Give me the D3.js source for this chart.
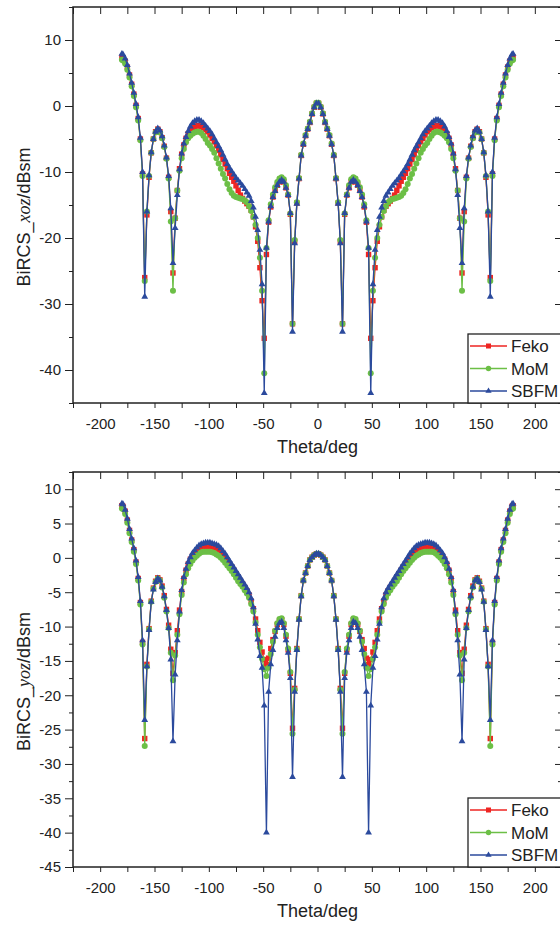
<!DOCTYPE html>
<html>
<head>
<meta charset="utf-8">
<script src="https://cdn.jsdelivr.net/npm/d3@7"></script>
<style>
body { margin: 0; background: #fff; }
svg text { font-family: Arial, "Liberation Sans", sans-serif; fill: #222; }
</style>
</head>
<body>
<script>
// scattering angle, deg
var theta = [
  -180, -179, -177, -175, -173, -171, -169, -167, -165, -163,
  -161, -159, -157, -155, -153, -151, -149, -147, -145, -143,
  -141, -139, -137, -135, -133, -131, -129, -127, -125, -123,
  -121, -119, -117, -115, -113, -111, -109, -107, -105, -103,
  -101, -99, -97, -95, -93, -91, -89, -87, -85, -83,
  -81, -79, -77, -75, -73, -71, -69, -67, -65, -63,
  -61, -59, -57, -55, -53, -51, -49, -47, -45, -43,
  -41, -39, -37, -35, -33, -31, -29, -27, -25, -23,
  -21, -19, -17, -15, -13, -11, -9, -7, -5, -3,
  -1,
  1,
  3, 5, 7, 9, 11, 13, 15, 17, 19, 21,
  23, 25, 27, 29, 31, 33, 35, 37, 39, 41,
  43, 45, 47, 49, 51, 53, 55, 57, 59, 61,
  63, 65, 67, 69, 71, 73, 75, 77, 79, 81,
  83, 85, 87, 89, 91, 93, 95, 97, 99, 101,
  103, 105, 107, 109, 111, 113, 115, 117, 119, 121,
  123, 125, 127, 129, 131, 133, 135, 137, 139, 141,
  143, 145, 147, 149, 151, 153, 155, 157, 159, 161,
  163, 165, 167, 169, 171, 173, 175, 177, 179, 180
];

// BiRCS xoz plane, dBsm
var xozFeko = [
  7.4, 7.3, 6.8, 5.9, 4.7, 3.3, 1.8, 0.1, -1.9, -5.0,
  -10.3, -26.0, -16.5, -10.8, -7.1, -5.0, -3.9, -3.5, -3.9, -4.8,
  -6.1, -7.9, -10.8, -16.0, -25.3, -17.0, -12.8, -9.5, -7.3, -5.9,
  -4.9, -4.2, -3.7, -3.4, -3.2, -3.0, -3.0, -3.1, -3.3, -3.6,
  -3.9, -4.4, -4.9, -5.4, -6.0, -6.7, -7.4, -8.1, -8.8, -9.5,
  -10.2, -10.8, -11.4, -12.1, -12.8, -13.5, -14.0, -14.4, -14.8, -15.2,
  -15.8, -16.8, -18.3, -20.5, -24.5, -29.5, -35.2, -22.5, -17.6, -15.3,
  -13.8, -12.8, -12.0, -11.5, -11.2, -11.5, -12.4, -13.5, -16.4, -33.0,
  -20.5, -14.7, -11.0, -7.5, -5.8, -4.5, -3.5, -2.5, -1.2, -0.2,
  0.4,
  0.4,
  -0.2, -1.2, -2.5, -3.5, -4.5, -5.8, -7.5, -11.0, -14.7, -20.5,
  -33.0, -16.4, -13.5, -12.4, -11.5, -11.2, -11.5, -12.0, -12.8, -13.8,
  -15.3, -17.6, -22.5, -35.2, -29.5, -24.5, -20.5, -18.3, -16.8, -15.8,
  -15.2, -14.8, -14.4, -14.0, -13.5, -12.8, -12.1, -11.4, -10.8, -10.2,
  -9.5, -8.8, -8.1, -7.4, -6.7, -6.0, -5.4, -4.9, -4.4, -3.9,
  -3.6, -3.3, -3.1, -3.0, -3.0, -3.2, -3.4, -3.7, -4.2, -4.9,
  -5.9, -7.3, -9.5, -12.8, -17.0, -25.3, -16.0, -10.8, -7.9, -6.1,
  -4.8, -3.9, -3.5, -3.9, -5.0, -7.1, -10.8, -16.5, -26.0, -10.3,
  -5.0, -1.9, 0.1, 1.8, 3.3, 4.7, 5.9, 6.8, 7.3, 7.4
];
var xozMoM = [
  7.0, 6.9, 6.4, 5.5, 4.3, 3.0, 1.5, -0.2, -2.2, -5.2,
  -10.6, -26.5, -16.0, -10.6, -7.1, -5.0, -4.0, -3.6, -4.0, -4.9,
  -6.2, -8.0, -11.0, -17.5, -28.0, -17.0, -12.8, -9.8, -7.9, -6.5,
  -5.5, -4.9, -4.5, -4.2, -4.0, -3.9, -3.9, -4.1, -4.5, -5.0,
  -5.6, -6.0, -6.5, -7.1, -7.9, -8.7, -9.5, -10.3, -11.0, -11.8,
  -12.6, -13.2, -13.6, -13.8, -13.9, -14.0, -14.1, -14.3, -14.6, -15.2,
  -15.9, -16.8, -18.0, -20.0, -23.0, -28.0, -40.5, -21.5, -17.3, -14.9,
  -13.4, -12.3, -11.5, -11.0, -10.8, -11.1, -12.0, -13.4, -16.3, -33.0,
  -20.3, -14.6, -10.9, -7.4, -5.7, -4.4, -3.4, -2.4, -1.1, -0.1,
  0.5,
  0.5,
  -0.1, -1.1, -2.4, -3.4, -4.4, -5.7, -7.4, -10.9, -14.6, -20.3,
  -33.0, -16.3, -13.4, -12.0, -11.1, -10.8, -11.0, -11.5, -12.3, -13.4,
  -14.9, -17.3, -21.5, -40.5, -28.0, -23.0, -20.0, -18.0, -16.8, -15.9,
  -15.2, -14.6, -14.3, -14.1, -14.0, -13.9, -13.8, -13.6, -13.2, -12.6,
  -11.8, -11.0, -10.3, -9.5, -8.7, -7.9, -7.1, -6.5, -6.0, -5.6,
  -5.0, -4.5, -4.1, -3.9, -3.9, -4.0, -4.2, -4.5, -4.9, -5.5,
  -6.5, -7.9, -9.8, -12.8, -17.0, -28.0, -17.5, -11.0, -8.0, -6.2,
  -4.9, -4.0, -3.6, -4.0, -5.0, -7.1, -10.6, -16.0, -26.5, -10.6,
  -5.2, -2.2, -0.2, 1.5, 3.0, 4.3, 5.5, 6.4, 6.9, 7.0
];
var xozSBFM = [
  7.9, 7.8, 7.2, 6.2, 4.9, 3.5, 2.0, 0.3, -1.7, -4.8,
  -10.0, -28.9, -16.0, -10.5, -7.0, -5.0, -3.9, -3.4, -3.7, -4.6,
  -6.0, -7.8, -10.6, -15.5, -23.8, -18.5, -13.5, -9.6, -7.2, -5.7,
  -4.7, -3.8, -3.1, -2.6, -2.3, -2.1, -2.1, -2.3, -2.6, -3.0,
  -3.4, -3.8, -4.3, -4.9, -5.5, -6.1, -6.7, -7.4, -8.1, -8.8,
  -9.4, -9.9, -10.4, -10.9, -11.3, -11.7, -12.1, -12.6, -13.1, -13.6,
  -14.4, -15.4, -16.8, -18.8, -21.8, -27.0, -43.5, -21.5, -17.5, -15.2,
  -13.8, -12.9, -12.0, -11.5, -11.2, -11.5, -12.4, -13.5, -16.2, -34.2,
  -20.8, -14.8, -11.0, -7.5, -5.8, -4.5, -3.5, -2.5, -1.2, -0.2,
  0.4,
  0.4,
  -0.2, -1.2, -2.5, -3.5, -4.5, -5.8, -7.5, -11.0, -14.8, -20.8,
  -34.2, -16.2, -13.5, -12.4, -11.5, -11.2, -11.5, -12.0, -12.9, -13.8,
  -15.2, -17.5, -21.5, -43.5, -27.0, -21.8, -18.8, -16.8, -15.4, -14.4,
  -13.6, -13.1, -12.6, -12.1, -11.7, -11.3, -10.9, -10.4, -9.9, -9.4,
  -8.8, -8.1, -7.4, -6.7, -6.1, -5.5, -4.9, -4.3, -3.8, -3.4,
  -3.0, -2.6, -2.3, -2.1, -2.1, -2.3, -2.6, -3.1, -3.8, -4.7,
  -5.7, -7.2, -9.6, -13.5, -18.5, -23.8, -15.5, -10.6, -7.8, -6.0,
  -4.6, -3.7, -3.4, -3.9, -5.0, -7.0, -10.5, -16.0, -28.9, -10.0,
  -4.8, -1.7, 0.3, 2.0, 3.5, 4.9, 6.2, 7.2, 7.8, 7.9
];

// BiRCS yoz plane, dBsm
var yozFeko = [
  7.6, 7.5, 6.8, 5.5, 4.0, 2.6, 1.2, -0.6, -3.0, -6.5,
  -12.3, -26.3, -15.5, -10.3, -6.3, -4.4, -3.4, -2.9, -3.2, -4.1,
  -5.5, -7.5, -9.8, -13.3, -16.8, -13.8, -10.6, -7.6, -4.9, -3.0,
  -1.8, -0.9, -0.2, 0.3, 0.7, 1.0, 1.3, 1.5, 1.6, 1.7,
  1.7, 1.7, 1.6, 1.5, 1.4, 1.2, 0.9, 0.5, 0.1, -0.4,
  -0.9, -1.3, -1.8, -2.3, -2.8, -3.3, -3.8, -4.3, -4.8, -5.4,
  -6.3, -7.4, -8.9, -10.6, -12.3, -13.7, -14.8, -15.5, -14.6, -13.2,
  -11.9, -10.7, -9.7, -9.2, -9.0, -9.7, -11.4, -13.4, -16.8, -24.8,
  -19.0, -13.2, -8.9, -5.5, -3.3, -2.2, -1.2, -0.3, 0.1, 0.4,
  0.6,
  0.6,
  0.4, 0.1, -0.3, -1.2, -2.2, -3.3, -5.5, -8.9, -13.2, -19.0,
  -24.8, -16.8, -13.4, -11.4, -9.7, -9.0, -9.2, -9.7, -10.7, -11.9,
  -13.2, -14.6, -15.5, -14.8, -13.7, -12.3, -10.6, -8.9, -7.4, -6.3,
  -5.4, -4.8, -4.3, -3.8, -3.3, -2.8, -2.3, -1.8, -1.3, -0.9,
  -0.4, 0.1, 0.5, 0.9, 1.2, 1.4, 1.5, 1.6, 1.7, 1.7,
  1.7, 1.6, 1.5, 1.3, 1.0, 0.7, 0.3, -0.2, -0.9, -1.8,
  -3.0, -4.9, -7.6, -10.6, -13.8, -16.8, -13.3, -9.8, -7.5, -5.5,
  -4.1, -3.2, -2.9, -3.4, -4.4, -6.3, -10.3, -15.5, -26.3, -12.3,
  -6.5, -3.0, -0.6, 1.2, 2.6, 4.0, 5.5, 6.8, 7.5, 7.6
];
var yozMoM = [
  7.2, 7.1, 6.4, 5.1, 3.6, 2.3, 0.9, -0.9, -3.3, -6.8,
  -12.6, -27.4, -15.8, -10.4, -6.4, -4.5, -3.5, -3.0, -3.3, -4.3,
  -5.8, -7.8, -10.2, -13.8, -17.8, -14.2, -11.2, -8.2, -5.4, -3.6,
  -2.4, -1.5, -0.9, -0.4, 0.0, 0.3, 0.6, 0.8, 0.9, 0.9,
  0.9, 0.9, 0.8, 0.7, 0.5, 0.3, 0.0, -0.3, -0.7, -1.1,
  -1.5, -1.9, -2.4, -2.9, -3.4, -3.8, -4.2, -4.7, -5.2, -5.8,
  -6.7, -7.8, -9.4, -11.2, -13.0, -14.7, -16.2, -17.2, -16.0, -14.0,
  -12.2, -10.6, -9.5, -8.9, -8.8, -9.5, -11.2, -13.2, -16.6, -25.6,
  -19.2, -13.3, -8.9, -5.5, -3.3, -2.2, -1.2, -0.3, 0.1, 0.4,
  0.6,
  0.6,
  0.4, 0.1, -0.3, -1.2, -2.2, -3.3, -5.5, -8.9, -13.3, -19.2,
  -25.6, -16.6, -13.2, -11.2, -9.5, -8.8, -8.9, -9.5, -10.6, -12.2,
  -14.0, -16.0, -17.2, -16.2, -14.7, -13.0, -11.2, -9.4, -7.8, -6.7,
  -5.8, -5.2, -4.7, -4.2, -3.8, -3.4, -2.9, -2.4, -1.9, -1.5,
  -1.1, -0.7, -0.3, 0.0, 0.3, 0.5, 0.7, 0.8, 0.9, 0.9,
  0.9, 0.9, 0.8, 0.6, 0.3, 0.0, -0.4, -0.9, -1.5, -2.4,
  -3.6, -5.4, -8.2, -11.2, -14.2, -17.8, -13.8, -10.2, -7.8, -5.8,
  -4.3, -3.3, -3.0, -3.5, -4.5, -6.4, -10.4, -15.8, -27.4, -12.6,
  -6.8, -3.3, -0.9, 0.9, 2.3, 3.6, 5.1, 6.4, 7.1, 7.2
];
var yozSBFM = [
  7.9, 7.8, 7.0, 5.7, 4.2, 2.8, 1.4, -0.4, -2.8, -6.3,
  -12.0, -23.6, -15.8, -10.5, -6.4, -4.6, -3.5, -3.0, -3.3, -4.2,
  -5.6, -7.6, -10.2, -14.8, -26.7, -17.0, -12.0, -7.8, -4.7, -2.8,
  -1.6, -0.6, 0.1, 0.7, 1.1, 1.5, 1.8, 2.0, 2.1, 2.2,
  2.2, 2.2, 2.1, 2.0, 1.9, 1.7, 1.4, 1.0, 0.6, 0.1,
  -0.4, -0.9, -1.4, -1.9, -2.4, -2.9, -3.4, -3.9, -4.4, -5.0,
  -5.9, -7.2, -9.6, -11.9, -14.3, -16.0, -21.5, -40.0, -19.5, -15.5,
  -13.4, -11.5, -10.2, -9.5, -9.3, -10.2, -12.0, -13.8, -17.5, -31.9,
  -19.5, -13.4, -9.0, -5.6, -3.3, -2.2, -1.2, -0.3, 0.1, 0.4,
  0.6,
  0.6,
  0.4, 0.1, -0.3, -1.2, -2.2, -3.3, -5.6, -9.0, -13.4, -19.5,
  -31.9, -17.5, -13.8, -12.0, -10.2, -9.3, -9.5, -10.2, -11.5, -13.4,
  -15.5, -19.5, -40.0, -21.5, -16.0, -14.3, -11.9, -9.6, -7.2, -5.9,
  -5.0, -4.4, -3.9, -3.4, -2.9, -2.4, -1.9, -1.4, -0.9, -0.4,
  0.1, 0.6, 1.0, 1.4, 1.7, 1.9, 2.0, 2.1, 2.2, 2.2,
  2.2, 2.1, 2.0, 1.8, 1.5, 1.1, 0.7, 0.1, -0.6, -1.6,
  -2.8, -4.7, -7.8, -12.0, -17.0, -26.7, -14.8, -10.2, -7.6, -5.6,
  -4.2, -3.3, -3.0, -3.5, -4.6, -6.4, -10.5, -15.8, -23.6, -12.0,
  -6.3, -2.8, -0.4, 1.4, 2.8, 4.2, 5.7, 7.0, 7.8, 7.9
];

var seriesNames = ["Feko", "MoM", "SBFM"];
var seriesColors = ["#ee2522", "#6cbf46", "#2b4a9d"];

var xTicks = [-200, -150, -100, -50, 0, 50, 100, 150, 200];
var xMinor = [-225, -175, -125, -75, -25, 25, 75, 125, 175, 225];
var xozTicks = [-40, -30, -20, -10, 0, 10];
var xozMinor = [-45, -35, -25, -15, -5, 5, 15];
var yozTicks = [-45, -40, -35, -30, -25, -20, -15, -10, -5, 0, 5, 10];
var yozMinor = [-42.5, -37.5, -32.5, -27.5, -22.5, -17.5, -12.5, -7.5, -2.5, 2.5, 7.5, 12.5];

var W = 560, H = 925;
var left = 73, right = 562;

var svg = d3.select("body").append("svg")
    .attr("width", W)
    .attr("height", H);

var x = d3.scaleLinear().domain([-225, 225]).range([left, right]);

function styleAxis(g) {
  g.select(".domain").remove();
  g.selectAll(".tick line").attr("stroke", "#222").attr("stroke-width", 1);
  g.selectAll(".tick text")
    .attr("fill", "#222")
    .style("font-size", "15px")
    .style("font-family", "Arial, 'Liberation Sans', sans-serif");
}

function drawPanel(top, bottom, yDomain, yMajor, yMinor, data, plane, legendTop) {
  var y = d3.scaleLinear().domain(yDomain).range([bottom, top]);
  var g = svg.append("g");
  var fmt = function(d) { return String(d); };

  // bottom axis (outward)
  g.append("g").attr("transform", "translate(0," + bottom + ")")
    .call(d3.axisBottom(x).tickValues(xTicks).tickSize(5).tickPadding(10).tickFormat(fmt))
    .call(styleAxis);
  g.append("g").attr("transform", "translate(0," + bottom + ")")
    .call(d3.axisBottom(x).tickValues(xMinor).tickSize(5).tickFormat(""))
    .call(styleAxis);
  // top axis (inward)
  g.append("g").attr("transform", "translate(0," + top + ")")
    .call(d3.axisBottom(x).tickValues(xTicks.concat(xMinor)).tickSize(7).tickFormat(""))
    .call(styleAxis);
  // left axis (outward)
  g.append("g").attr("transform", "translate(" + left + ",0)")
    .call(d3.axisLeft(y).tickValues(yMajor).tickSize(8).tickPadding(4).tickFormat(fmt))
    .call(styleAxis);
  g.append("g").attr("transform", "translate(" + left + ",0)")
    .call(d3.axisLeft(y).tickValues(yMinor).tickSize(4).tickFormat(""))
    .call(styleAxis);
  // right axis (inward)
  g.append("g").attr("transform", "translate(" + right + ",0)")
    .call(d3.axisLeft(y).tickValues(yMajor).tickSize(7).tickFormat(""))
    .call(styleAxis);
  g.append("g").attr("transform", "translate(" + right + ",0)")
    .call(d3.axisLeft(y).tickValues(yMinor).tickSize(4).tickFormat(""))
    .call(styleAxis);

  // series
  var line = d3.line()
    .x(function(d, i) { return x(theta[i]); })
    .y(function(d) { return y(d); });

  data.forEach(function(vals, k) {
    var c = seriesColors[k];
    var sg = g.append("g");
    sg.append("path").datum(vals)
      .attr("d", line)
      .attr("fill", "none")
      .attr("stroke", c)
      .attr("stroke-width", 1.3);
    var pts = sg.selectAll(".m").data(vals).enter();
    if (k == 0) {
      pts.append("rect")
        .attr("x", function(d, i) { return x(theta[i]) - 2.7; })
        .attr("y", function(d) { return y(d) - 2.7; })
        .attr("width", 5.4).attr("height", 5.4)
        .attr("fill", c);
    } else if (k == 1) {
      pts.append("circle")
        .attr("cx", function(d, i) { return x(theta[i]); })
        .attr("cy", function(d) { return y(d); })
        .attr("r", 3)
        .attr("fill", c);
    } else {
      pts.append("path")
        .attr("d", d3.symbol(d3.symbolTriangle, 20))
        .attr("transform", function(d, i) { return "translate(" + x(theta[i]) + "," + y(d) + ")"; })
        .attr("fill", c);
    }
  });

  // frame
  g.append("rect")
    .attr("x", left).attr("y", top)
    .attr("width", right - left).attr("height", bottom - top)
    .attr("fill", "none").attr("stroke", "#222").attr("stroke-width", 1.5);

  // legend
  var lg = g.append("g");
  lg.append("rect")
    .attr("x", 468).attr("y", legendTop)
    .attr("width", right - 468).attr("height", bottom - legendTop)
    .attr("fill", "#fff").attr("stroke", "#222").attr("stroke-width", 1.3);
  seriesNames.forEach(function(name, k) {
    var ly = legendTop + 12 + k * 22.5;
    var c = seriesColors[k];
    lg.append("line").attr("x1", 470).attr("x2", 507).attr("y1", ly).attr("y2", ly)
      .attr("stroke", c).attr("stroke-width", 1.6);
    if (k == 0) {
      lg.append("rect").attr("x", 486).attr("y", ly - 2.5).attr("width", 5).attr("height", 5).attr("fill", c);
    } else if (k == 1) {
      lg.append("circle").attr("cx", 488.5).attr("cy", ly).attr("r", 2.7).attr("fill", c);
    } else {
      lg.append("path").attr("d", d3.symbol(d3.symbolTriangle, 17))
        .attr("transform", "translate(488.5," + ly + ")").attr("fill", c);
    }
    lg.append("text").attr("x", 511).attr("y", ly + 6)
      .style("font-size", "17px").text(name);
  });

  // axis titles
  g.append("text")
    .attr("x", x(0)).attr("y", bottom + 50)
    .attr("text-anchor", "middle")
    .style("font-size", "18px")
    .text("Theta/deg");

  var yt = g.append("text")
    .attr("transform", "translate(30," + ((top + bottom) / 2 + 12) + ") rotate(-90)")
    .attr("text-anchor", "middle")
    .style("font-size", "18px");
  yt.append("tspan").text("BiRCS_");
  yt.append("tspan")
    .style("font-family", "'Liberation Serif', 'Times New Roman', serif")
    .style("font-style", "italic")
    .text(plane);
  yt.append("tspan").text("/dBsm");
}

drawPanel(7, 403, [-45, 15], xozTicks, xozMinor, [xozFeko, xozMoM, xozSBFM], "xoz", 334);
drawPanel(472, 867, [-45, 12.5], yozTicks, yozMinor, [yozFeko, yozMoM, yozSBFM], "yoz", 798);
</script>
</body>
</html>
